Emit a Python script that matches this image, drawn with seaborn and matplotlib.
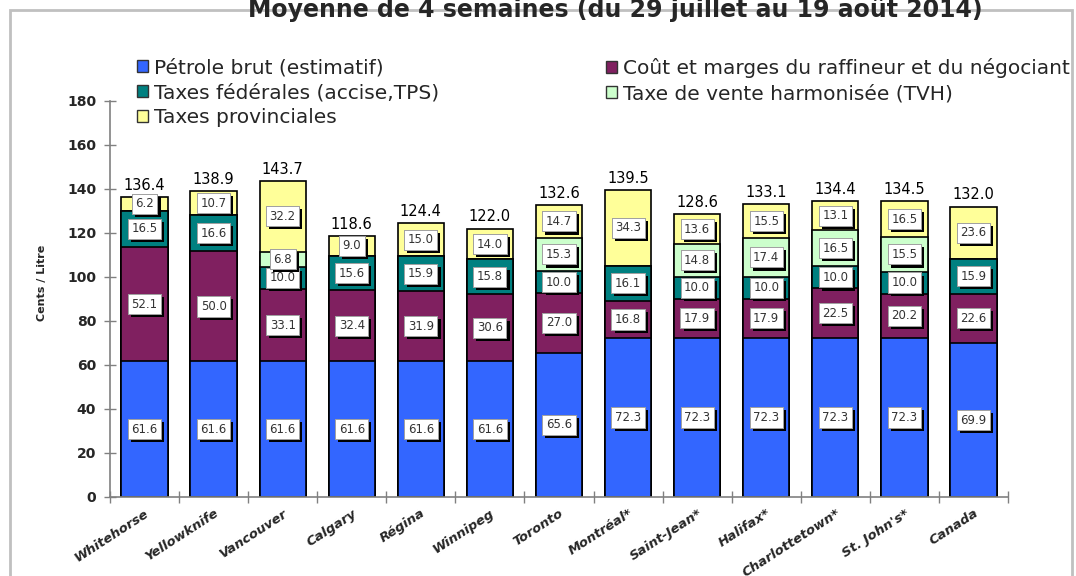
import matplotlib
matplotlib.use('Agg')
import matplotlib.pyplot as plt
import matplotlib.patheffects as pe
from matplotlib.patches import Patch, Rectangle
import numpy as np
import seaborn as sns

# Données (cents / litre)
villes = ['Whitehorse', 'Yellowknife', 'Vancouver', 'Calgary', 'Régina', 'Winnipeg', 'Toronto',
          'Montréal*', 'Saint-Jean*', 'Halifax*', 'Charlottetown*', "St. John's*", 'Canada']
petrole = [61.6, 61.6, 61.6, 61.6, 61.6, 61.6, 65.6, 72.3, 72.3, 72.3, 72.3, 72.3, 69.9]
raffineur = [52.1, 50.0, 33.1, 32.4, 31.9, 30.6, 27.0, 16.8, 17.9, 17.9, 22.5, 20.2, 22.6]
federales = [16.5, 16.6, 10.0, 15.6, 15.9, 15.8, 10.0, 16.1, 10.0, 10.0, 10.0, 10.0, 15.9]
tvh = [0, 0, 6.8, 0, 0, 0, 15.3, 0, 14.8, 17.4, 16.5, 15.5, 0]
provinciales = [6.2, 10.7, 32.2, 9.0, 15.0, 14.0, 14.7, 34.3, 13.6, 15.5, 13.1, 16.5, 23.6]
totaux = [136.4, 138.9, 143.7, 118.6, 124.4, 122.0, 132.6, 139.5, 128.6, 133.1, 134.4, 134.5, 132.0]

noms = ['Pétrole brut (estimatif)', 'Coût et marges du raffineur et du négociant',
        'Taxes fédérales (accise,TPS)', 'Taxe de vente harmonisée (TVH)', 'Taxes provinciales']
couleurs = ['#3366FF', '#802060', '#008080', '#CCFFCC', '#FFFF99']

sns.set_style('white')
plt.rcParams['font.family'] = ['DejaVu Sans']

fig = plt.figure(figsize=(10.76, 5.76), dpi=100)
ax = fig.add_axes([110/1076, 1 - 497/576, (1008 - 110)/1076, (497 - 101)/576])

couches = np.array([petrole, raffineur, federales, tvh, provinciales])
cumul = np.cumsum(couches, axis=0)

# barres empilées : on dessine les cumuls du haut vers le bas
for i in range(4, -1, -1):
    sns.barplot(x=villes, y=cumul[i], color=couleurs[i], saturation=1, edgecolor='black',
                linewidth=1.2, width=0.67, errorbar=None, ax=ax)

# étiquettes des segments
for i in range(5):
    for j in range(len(villes)):
        v = couches[i][j]
        if v <= 0:
            continue
        t = ax.text(j, cumul[i][j] - v / 2, f'{v:.1f}', ha='center', va='center', fontsize=8.5,
                    color='#333333', zorder=6,
                    bbox=dict(boxstyle='square,pad=0.3', fc='white', ec='#999999', lw=0.6))
        t.get_bbox_patch().set_path_effects([
            pe.withSimplePatchShadow(offset=(2.2, -2.2), shadow_rgbFace='black', alpha=1.0),
            pe.Normal()])

# totaux
for j, tot in enumerate(totaux):
    ax.text(j, tot + 3.3, f'{tot:.1f}', ha='center', va='baseline', fontsize=10.5, color='black')

ax.set_xlim(-0.5, 12.5)
ax.set_ylim(0, 180)
for s in ['top', 'right']:
    ax.spines[s].set_visible(False)
for s in ['left', 'bottom']:
    ax.spines[s].set_color('#808080')
    ax.spines[s].set_linewidth(1.2)

ax.set_yticks(range(0, 181, 20))
ax.set_yticklabels([str(v) for v in range(0, 181, 20)], fontsize=10, fontweight='bold')
ax.tick_params(axis='y', direction='inout', length=8, width=1, color='#808080', left=True, pad=6)

ax.set_xticks(range(len(villes)))
ax.set_xticklabels(villes, rotation=33, ha='right', va='top', rotation_mode='anchor',
                   fontsize=9.5, fontweight='bold', fontstyle='italic')
ax.set_xticks(np.arange(-0.5, 13, 1), minor=True)
ax.tick_params(axis='x', which='major', length=0, pad=7)
ax.tick_params(axis='x', which='minor', direction='inout', length=8, width=1, color='#808080', bottom=True)

ax.set_xlabel('')
ax.set_ylabel('Cents / Litre', fontsize=8, fontweight='bold')
ax.yaxis.set_label_coords(-(110 - 47)/898, (497 - 283)/396)

# légende en deux colonnes
poignees = [Patch(facecolor=c, edgecolor='#333333', linewidth=1) for c in couleurs]
opts = dict(loc='upper left', frameon=False, fontsize=14.5, handlelength=0.55, handleheight=0.5,
            handletextpad=0.3, labelspacing=0.3, borderaxespad=0, borderpad=0)
fig.legend([poignees[0], poignees[2], poignees[4]], [noms[0], noms[2], noms[4]],
           bbox_to_anchor=(137/1076, 1 - 58/576), **opts)
fig.legend([poignees[1], poignees[3]], [noms[1], noms[3]],
           bbox_to_anchor=(606/1076, 1 - 58/576), **opts)

# cadre et titre
fig.add_artist(Rectangle((10/1076, -0.05), (1072 - 10)/1076, (576 - 10)/576 + 0.05,
                         transform=fig.transFigure, fill=False, ec='#c0c0c0', lw=2, zorder=0))
fig.text(615/1076, 1 - 17/576, 'Moyenne de 4 semaines (du 29 juillet au 19 août 2014)',
         ha='center', va='baseline', fontsize=17, fontweight='bold')

fig.savefig('out.png', dpi=100)
